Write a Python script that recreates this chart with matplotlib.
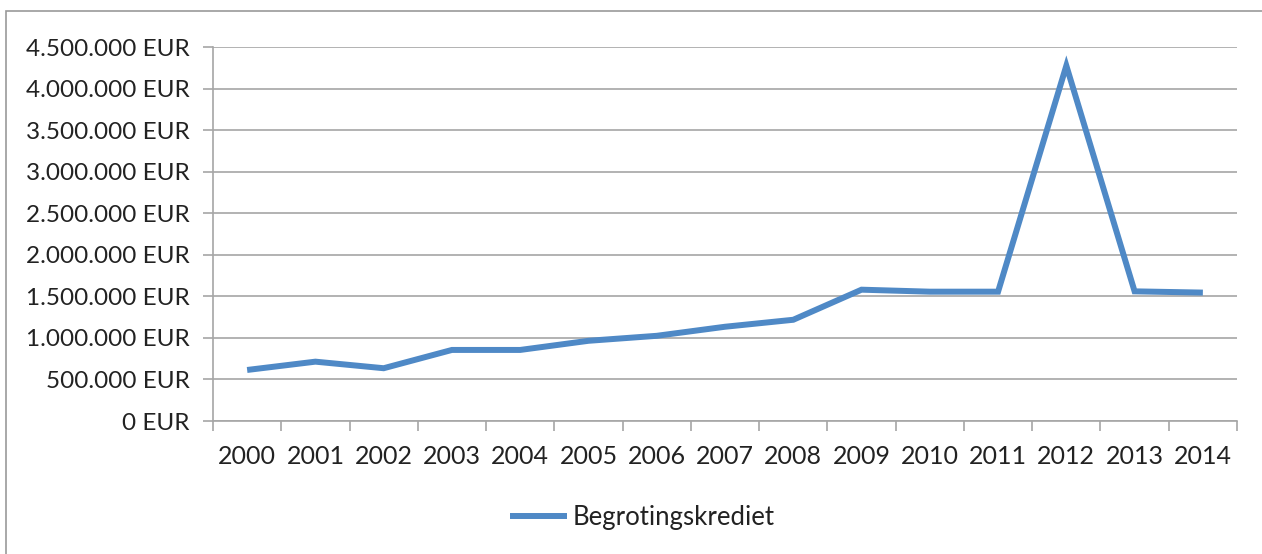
import matplotlib.pyplot as plt
from matplotlib.patches import Rectangle
from matplotlib.ticker import FuncFormatter, FixedLocator

plt.rcParams['font.family'] = ['Lato', 'DejaVu Sans']

jaren = ['2000', '2001', '2002', '2003', '2004', '2005', '2006', '2007',
         '2008', '2009', '2010', '2011', '2012', '2013', '2014']
krediet = [614000, 714000, 635000, 855000, 855000, 965000, 1025000, 1134000,
           1218000, 1580000, 1556000, 1556000, 4275000, 1560000, 1545000]

lijnkleur = '#4F89C6'
rasterkleur = '#A6A6A6'


def eur(v, pos):
    return '{:,.0f} EUR'.format(v).replace(',', '.')


def main():
    fig = plt.figure(figsize=(12.62, 5.54), dpi=100)
    fig.patches.append(Rectangle((6 / 1262, -0.1), 1.2, 1 - 11 / 554 + 0.1,
                                 transform=fig.transFigure, fill=False,
                                 edgecolor='#999999', linewidth=1.2))
    ax = fig.add_axes([213 / 1262, 1 - 421 / 554, 1024 / 1262, 374 / 554])

    x = list(range(len(jaren)))
    ax.plot(x, krediet, color=lijnkleur, linewidth=4.3,
            solid_joinstyle='miter', solid_capstyle='butt', label='Begrotingskrediet')

    ax.set_xlim(-0.5, len(jaren) - 0.5)
    ax.set_ylim(0, 4500000)
    ax.set_yticks(range(0, 4500001, 500000))
    ax.yaxis.set_major_formatter(FuncFormatter(eur))
    ax.set_xticks(x)
    ax.set_xticklabels(jaren)
    ax.xaxis.set_minor_locator(FixedLocator([i - 0.5 for i in range(len(jaren) + 1)]))

    ax.grid(axis='y', color=rasterkleur, linewidth=1.2)
    ax.set_axisbelow(True)
    for s in ['top', 'right']:
        ax.spines[s].set_visible(False)
    for s in ['left', 'bottom']:
        ax.spines[s].set_color(rasterkleur)
        ax.spines[s].set_linewidth(1.2)

    ax.tick_params(axis='x', which='major', length=0, pad=17, labelsize=18, labelcolor='#222222')
    ax.tick_params(axis='x', which='minor', length=7, width=1.2, color=rasterkleur, direction='out')
    ax.tick_params(axis='y', length=7, width=1.2, color=rasterkleur, pad=10,
                   labelsize=17.5, labelcolor='#222222')

    fig.legend(loc='center', bbox_to_anchor=(642 / 1262, 1 - 517 / 554), frameon=False,
               fontsize=18.5, handlelength=2.25, handletextpad=0.2,
               labelcolor='#222222')

    fig.savefig('out.png', dpi=100)


if __name__ == '__main__':
    main()
